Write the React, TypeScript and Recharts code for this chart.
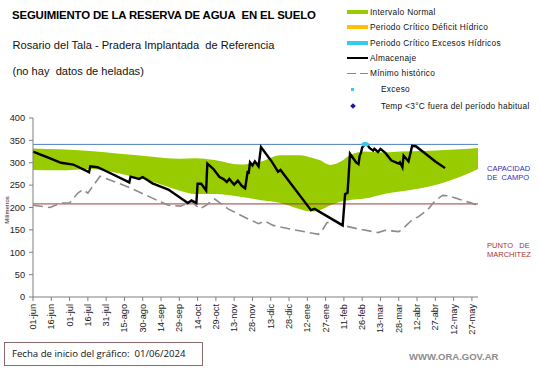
import React from 'react';
import { ComposedChart, Area, Line, XAxis, YAxis, ReferenceLine } from 'recharts';

// days counted from 01-jun-2024
const tickDays = [0, 15, 30, 45, 60, 75, 90, 105, 120, 135, 150, 165, 180, 195, 210, 225, 240, 255, 270, 285, 300, 315, 330, 345, 360];
const tickLabels = [
  '01-jun', '16-jun', '01-jul', '16-jul', '31-jul', '15-ago', '30-ago', '14-sep', '29-sep', '14-oct',
  '29-oct', '13-nov', '28-nov', '13-dic', '28-dic', '12-ene', '27-ene', '11-feb', '26-feb', '13-mar',
  '28-mar', '12-abr', '27-abr', '12-may', '27-may',
];
const yTicks = [0, 50, 100, 150, 200, 250, 300, 350, 400];

const CAPACIDAD_CAMPO = 341;
const PUNTO_MARCHITEZ = 208;

// Intervalo normal (green band)
const bandDays = [0, 22, 47, 71, 96, 120, 133, 149, 170, 186, 203, 219, 228, 235, 244, 252, 260, 272, 289, 301, 318, 334, 350, 365];
const bandLow = [284, 283, 286, 276, 259, 238, 230, 230, 224, 217, 210, 196, 191, 194, 205, 213, 217, 220, 231, 236, 243, 253, 268, 286];
const bandHigh = [332, 330, 326, 320, 314, 309, 310, 306, 296, 302, 317, 317, 312, 306, 295, 302, 317, 325, 323, 325, 326, 328, 330, 333];

// Almacenaje
const storageDays = [
  0, 12, 23, 33, 46, 47, 53, 64, 79, 80, 87, 90, 98, 111, 127, 130, 134, 135, 138, 142, 143, 148, 153,
  156, 159, 161, 165, 168, 171, 174, 176, 177, 178, 180, 182, 185, 187, 190, 196, 201, 203, 228, 231,
  254, 256, 258, 260, 265, 267, 268, 269, 270, 272, 274, 276, 279, 280, 283, 285, 289, 294, 300, 301,
  303, 304, 308, 311, 314, 322, 330, 338,
];
const storageValues = [
  325, 312, 300, 296, 279, 292, 290, 276, 256, 269, 264, 268, 254, 240, 210, 216, 210, 253, 253, 238, 298, 286, 268,
  264, 257, 264, 251, 260, 249, 243, 279, 278, 301, 294, 303, 292, 335, 324, 302, 280, 284, 194, 197,
  160, 230, 233, 320, 301, 297, 316, 322, 334, 341, 341, 333, 327, 331, 324, 331, 322, 305, 298, 301,
  290, 316, 303, 338, 337, 320, 303, 288,
];

// Mínimo histórico
const minDays = [0, 14, 23, 30, 37, 41, 45, 55, 78, 98, 111, 121, 130, 137, 142, 149, 160, 176, 185, 190, 197, 209, 234, 237, 241, 248, 254, 267, 283, 289, 300, 303, 312, 316, 324, 330, 336, 341, 349, 357, 365];
const minValues = [205, 200, 210, 210, 233, 240, 232, 270, 246, 221, 205, 203, 213, 197, 205, 219, 197, 175, 164, 170, 160, 153, 140, 148, 166, 170, 160, 152, 144, 149, 146, 152, 175, 179, 196, 216, 227, 226, 219, 212, 205];

// Exceso
const excessDays = [271, 272, 273, 274];
const excessValues = [341, 342, 342, 341];

const bandData = bandDays.map((d, i) => ({ day: d, band: [bandLow[i], bandHigh[i]] }));
const storageData = storageDays.map((d, i) => ({ day: d, almacenaje: storageValues[i] }));
const minData = minDays.map((d, i) => ({ day: d, minimo: minValues[i] }));
const excessData = excessDays.map((d, i) => ({ day: d, exceso: excessValues[i] }));

const FONT = '"Liberation Sans", Arial, sans-serif';

const XTick = (props: any) => {
  const { x, y, payload } = props;
  const idx = tickDays.indexOf(payload.value);
  const tx = x + 3;
  const ty = y + 1;
  return (
    <text x={tx} y={ty} transform={`rotate(-90, ${tx}, ${ty})`} textAnchor="end" fontSize={9.2} fill="#222" fontFamily={FONT}>
      {tickLabels[idx]}
    </text>
  );
};

const legendRows = [
  { label: 'Intervalo Normal', kind: 'bar', color: '#99CC00', y: 12 },
  { label: 'Periodo Crítico Déficit Hídrico', kind: 'bar', color: '#FFC000', y: 27 },
  { label: 'Periodo Crítico Excesos Hídricos', kind: 'bar', color: '#33CCEE', y: 43 },
  { label: 'Almacenaje', kind: 'line', color: '#000', y: 58 },
  { label: 'Mínimo histórico', kind: 'dash', color: '#888', y: 73 },
  { label: 'Exceso', kind: 'dot', color: '#33CCEE', y: 89 },
  { label: 'Temp <3°C fuera del período habitual', kind: 'diamond', color: '#1A1A9E', y: 106 },
];

function LegendBox() {
  return (
    <>
      {legendRows.map((r) => {
        const isMarker = r.kind === 'dot' || r.kind === 'diamond';
        return (
          <div key={r.label} style={{ position: 'absolute', left: 347, top: r.y - 5, height: 10, width: 194 }}>
            {r.kind === 'bar' && (
              <div style={{ position: 'absolute', left: 0, top: 3, width: 21, height: 4, background: r.color }} />
            )}
            {r.kind === 'line' && (
              <div style={{ position: 'absolute', left: 0, top: 4, width: 21, height: 2, background: r.color }} />
            )}
            {r.kind === 'dash' && (
              <>
                <div style={{ position: 'absolute', left: 0, top: 4.5, width: 9, height: 1.5, background: r.color }} />
                <div style={{ position: 'absolute', left: 13, top: 4.5, width: 8, height: 1.5, background: r.color }} />
              </>
            )}
            {r.kind === 'dot' && (
              <div style={{ position: 'absolute', left: 4, top: 4, width: 3, height: 3, background: r.color }} />
            )}
            {r.kind === 'diamond' && (
              <div style={{ position: 'absolute', left: 3.5, top: 3, width: 4, height: 4, background: r.color, transform: 'rotate(45deg)' }} />
            )}
            <div
              style={{
                position: 'absolute', left: isMarker ? 34 : 23, top: 0, lineHeight: '10px',
                fontSize: 8.3, letterSpacing: 0.3, color: '#111', whiteSpace: 'nowrap', fontFamily: FONT,
              }}
            >
              {r.label}
            </div>
          </div>
        );
      })}
    </>
  );
}

export default function App() {
  return (
    <div style={{ position: 'absolute', left: 0, top: 0, width: 541, height: 368, background: '#fff', fontFamily: FONT, overflow: 'hidden' }}>
      <div style={{ position: 'absolute', left: 12, top: 9, fontSize: 11.4, fontWeight: 'bold', lineHeight: '13px', whiteSpace: 'nowrap', letterSpacing: -0.15 }}>
        SEGUIMIENTO DE LA RESERVA DE AGUA&nbsp; EN EL SUELO
      </div>
      <div style={{ position: 'absolute', left: 12.5, top: 39, fontSize: 11.1, lineHeight: '13px', whiteSpace: 'nowrap', color: '#111' }}>
        Rosario del Tala - Pradera Implantada&nbsp; de Referencia
      </div>
      <div style={{ position: 'absolute', left: 12.5, top: 65, fontSize: 11.1, lineHeight: '13px', whiteSpace: 'nowrap', color: '#111' }}>
        (no hay&nbsp; datos de heladas)
      </div>

      <LegendBox />

      <ComposedChart
        width={541}
        height={368}
        margin={{ top: 118, right: 63, bottom: 31, left: 0 }}
        style={{ position: 'absolute', left: 0, top: 0 }}
      >
        <XAxis
          dataKey="day"
          type="number"
          domain={[0, 365]}
          ticks={tickDays}
          interval={0}
          allowDuplicatedCategory={false}
          stroke="#7f7f7f"
          tickSize={4}
          height={40}
          tick={<XTick />}
        />
        <YAxis
          type="number"
          domain={[0, 400]}
          ticks={yTicks}
          interval={0}
          width={33}
          stroke="#7f7f7f"
          tickSize={4}
          tick={{ fontSize: 9.2, fill: '#222', fontFamily: FONT, dx: -2 }}
        />
        <Area
          data={bandData}
          dataKey="band"
          type="monotone"
          stroke="none"
          fill="#99CC00"
          fillOpacity={1}
          isAnimationActive={false}
          activeDot={false}
        />
        <ReferenceLine y={CAPACIDAD_CAMPO} stroke="#4F81BD" strokeWidth={1} />
        <ReferenceLine y={PUNTO_MARCHITEZ} stroke="#A33A3A" strokeWidth={1} />
        <Line
          data={minData}
          dataKey="minimo"
          type="linear"
          stroke="#8c8c8c"
          strokeWidth={1.6}
          strokeDasharray="10 5"
          dot={false}
          isAnimationActive={false}
        />
        <Line
          data={storageData}
          dataKey="almacenaje"
          type="linear"
          stroke="#000"
          strokeWidth={2.4}
          dot={false}
          isAnimationActive={false}
        />
        <Line
          data={excessData}
          dataKey="exceso"
          type="linear"
          stroke="#33CCEE"
          strokeWidth={4}
          strokeLinecap="round"
          dot={false}
          isAnimationActive={false}
        />
      </ComposedChart>

      <div style={{ position: 'absolute', left: 2, top: 210, fontSize: 6, color: '#222', transform: 'translate(-50%, -50%) rotate(-90deg)', transformOrigin: 'center', marginLeft: 5, whiteSpace: 'nowrap' }}>
        Milímetros
      </div>

      <div style={{ position: 'absolute', left: 487, top: 165, fontSize: 7.5, lineHeight: '8.5px', color: '#3030B8', whiteSpace: 'pre' }}>
        {'CAPACIDAD\nDE  CAMPO'}
      </div>
      <div style={{ position: 'absolute', left: 487, top: 242, fontSize: 7.5, lineHeight: '8.5px', color: '#B03030', whiteSpace: 'pre' }}>
        {'PUNTO   DE\nMARCHITEZ'}
      </div>

      <div
        style={{
          position: 'absolute', left: 4, top: 342, width: 199, height: 24, border: '1px solid #8a6a6a',
          boxSizing: 'border-box', fontSize: 9.6, lineHeight: '22px', paddingLeft: 7, whiteSpace: 'pre', color: '#111',
          fontFamily: '"Open Sans", "Liberation Sans", sans-serif',
        }}
      >
        {'Fecha de inicio del gráfico:  01/06/2024'}
      </div>
      <div style={{ position: 'absolute', left: 409, top: 351, fontSize: 9.5, fontWeight: 'bold', color: '#8c8c8c', whiteSpace: 'nowrap' }}>
        WWW.ORA.GOV.AR
      </div>
    </div>
  );
}
